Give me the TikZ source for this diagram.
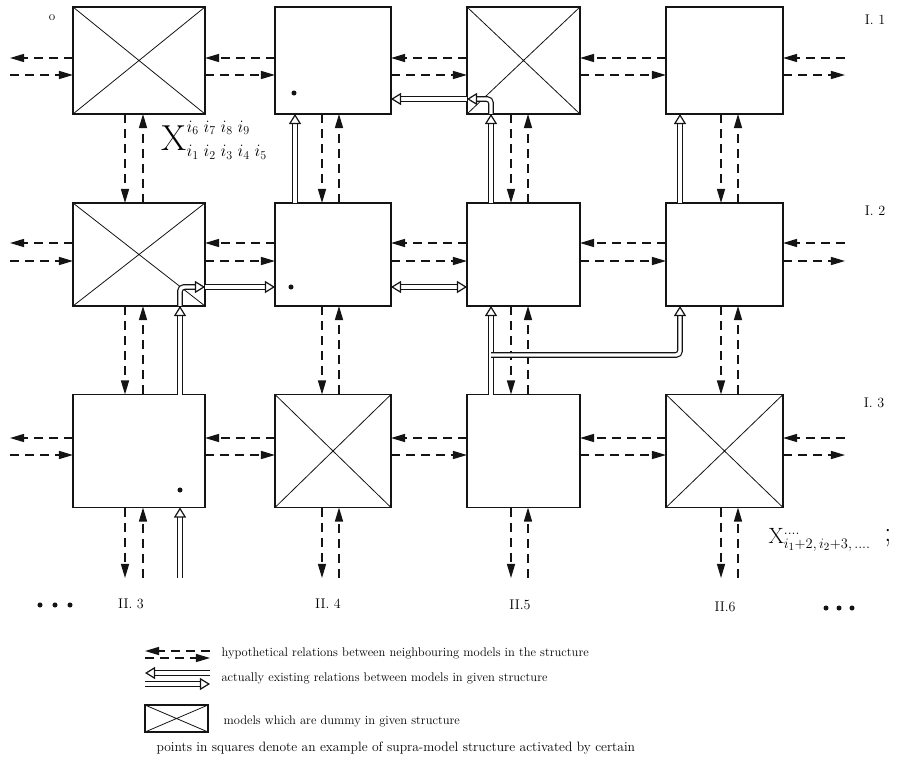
\documentclass[tikz,border=0pt]{standalone}
\usetikzlibrary{arrows.meta}
\definecolor{ModelInk}{HTML}{141414}

\begin{document}
\begin{tikzpicture}[
    x=0.035cm, y=-0.035cm,
    model/.style={
      draw=ModelInk,
      line width=1.4pt,
      inner sep=0pt,
      outer sep=0pt
    },
    dummy/.style={
      model,
      path picture={
        \draw[ModelInk, line width=0.8pt]
          (path picture bounding box.north west) -- (path picture bounding box.south east)
          (path picture bounding box.north east) -- (path picture bounding box.south west);
      }
    },
    hyp/.style={
      draw=ModelInk,
      line width=1.3pt,
      dash pattern=on 9pt off 6pt,
      -{Triangle[length=14pt,width=8pt]}
    },
    real/.style={
      draw=ModelInk,
      line width=1.2pt,
      double=white,
      double distance=3.4pt,
      -{Triangle[open,length=10pt,width=12pt]}
    },
    realboth/.style={
      real,
      arrows={Triangle[open,length=10pt,width=12pt]-Triangle[open,length=10pt,width=12pt]}
    },
    dot/.style={circle, fill=ModelInk, inner sep=0pt, minimum size=5pt},
    lbl/.style={font=\fontsize{14}{16}\selectfont},
    legend/.style={anchor=west, font=\fontsize{12.5}{14}\selectfont}
  ]

  \useasboundingbox (0,0) rectangle (897,758);

  % Models, row I.1
  \node[dummy, minimum width=4.62cm,  minimum height=3.745cm] (m11) at (139,60.5) {};
  \node[model, minimum width=4.06cm,  minimum height=3.745cm] (m12) at (333,60.5) {};
  \node[dummy, minimum width=3.955cm, minimum height=3.745cm] (m13) at (523.5,60.5) {};
  \node[model, minimum width=4.095cm, minimum height=3.745cm] (m14) at (724.5,60.5) {};

  % Models, row I.2
  \node[dummy, minimum width=4.62cm,  minimum height=3.605cm] (m21) at (139,254.5) {};
  \node[model, minimum width=4.06cm,  minimum height=3.605cm] (m22) at (333,254.5) {};
  \node[model, minimum width=3.955cm, minimum height=3.605cm] (m23) at (523.5,254.5) {};
  \node[model, minimum width=4.095cm, minimum height=3.605cm] (m24) at (724.5,254.5) {};

  % Models, row I.3
  \node[model, minimum width=4.62cm,  minimum height=3.955cm] (m31) at (139,451) {};
  \node[dummy, minimum width=4.06cm,  minimum height=3.955cm] (m32) at (333,451) {};
  \node[model, minimum width=3.955cm, minimum height=3.955cm] (m33) at (523.5,451) {};
  \node[dummy, minimum width=4.095cm, minimum height=3.955cm] (m34) at (724.5,451) {};

  % Hypothetical relations along the rows
  \foreach \r/\yu/\yl in {1/58/75, 2/243/261, 3/438/455}{
    \coordinate (wu\r) at (10,\yu);
    \coordinate (wl\r) at (10,\yl);
    \coordinate (eu\r) at (845,\yu);
    \coordinate (el\r) at (845,\yl);
    \draw[hyp] (m\r1.west |- wu\r) -- (wu\r);
    \draw[hyp] (wl\r) -- (m\r1.west |- wl\r);
    \draw[hyp] (eu\r) -- (m\r4.east |- eu\r);
    \draw[hyp] (m\r4.east |- el\r) -- (el\r);
    \foreach \a/\b in {1/2, 2/3, 3/4}{
      \draw[hyp] (m\r\b.west |- wu\r) -- (m\r\a.east |- wu\r);
      \draw[hyp] (m\r\a.east |- wl\r) -- (m\r\b.west |- wl\r);
    }
  }

  % Hypothetical relations along the columns
  \foreach \c/\xd/\xu in {1/125/143, 2/322/339, 3/511/528, 4/721/738}{
    \coordinate (sd\c) at (\xd,578);
    \coordinate (su\c) at (\xu,578);
    \draw[hyp] (m1\c.south -| sd\c) -- (m2\c.north -| sd\c);
    \draw[hyp] (m2\c.north -| su\c) -- (m1\c.south -| su\c);
    \draw[hyp] (m2\c.south -| sd\c) -- (m3\c.north -| sd\c);
    \draw[hyp] (m3\c.north -| su\c) -- (m2\c.south -| su\c);
    \draw[hyp] (m3\c.south -| sd\c) -- (sd\c);
    \draw[hyp] (su\c) -- (m3\c.south -| su\c);
  }

  % Lanes of the existing relations
  \coordinate (x1) at (180,0);
  \coordinate (x2) at (295,0);
  \coordinate (x3) at (491,0);
  \coordinate (x4) at (680,0);
  \coordinate (y1) at (0,99);
  \coordinate (y2) at (0,287);
  \coordinate (yb) at (0,355);
  \coordinate (feed) at (180,578);

  % Existing relations
  \draw[real] (feed) -- (m31.south -| x1);
  \draw[real] (m31.north -| x1) -- (m21.south -| x1);
  \draw[real, rounded corners=4pt] (m21.south -| x1) |- (m21.east |- y2);
  \draw[real] (m21.east |- y2) -- (m22.west |- y2);
  \draw[real] (m22.north -| x2) -- (m12.south -| x2);
  \draw[realboth] (m22.east |- y2) -- (m23.west |- y2);
  \draw[real] (m33.north -| x3) -- (m23.south -| x3);
  \draw[real, rounded corners=4pt] (x3 |- yb) -| (m24.south -| x4);
  \draw[real] (m23.north -| x3) -- (m13.south -| x3);
  \draw[real, rounded corners=4pt] (m13.south -| x3) |- (m13.west |- y1);
  \draw[real] (m13.west |- y1) -- (m12.east |- y1);
  \draw[real] (m24.north -| x4) -- (m14.south -| x4);

  % Points of the supra-model structure
  \node[dot] (p12) at (294,93) {};
  \node[dot] (p22) at (291,287) {};
  \node[dot] (p31) at (180,490) {};

  % Labels
  \node[font=\fontsize{13}{13}\selectfont] (mark) at (52,18) {o};
  \node[anchor=west, font=\fontsize{26}{28}\selectfont] (xfirst) at (158,140)
    {$\mbox{\fontsize{36}{36}\selectfont X}^{i_6\;i_7\;i_8\;i_9}_{i_1\;i_2\;i_3\;i_4\;i_5}$};
  \node[anchor=west, font=\fontsize{22}{24}\selectfont] (xnext) at (765,540)
    {$\mbox{X}^{....}_{i_1+2,\,i_2+3,\,....}$};
  \node[font=\fontsize{28}{28}\selectfont] (semi) at (888,538) {;};
  \node[lbl] (row1) at (875,20) {I. 1};
  \node[lbl] (row2) at (875,211) {I. 2};
  \node[lbl] (row3) at (874,403) {I. 3};
  \node[lbl] (col3) at (131,604) {II. 3};
  \node[lbl] (col4) at (328,604) {II. 4};
  \node[lbl] (col5) at (520,605) {II.5};
  \node[lbl] (col6) at (725,607) {II.6};
  \node[dot] (la) at (40,605) {};
  \node[dot] (lb) at (55,605) {};
  \node[dot] (lc) at (70,605) {};
  \node[dot] (ra) at (826,608) {};
  \node[dot] (rb) at (839,608) {};
  \node[dot] (rc) at (852,608) {};

  % Legend
  \coordinate (kha) at (145,651);
  \coordinate (khb) at (210,651);
  \coordinate (khc) at (145,658);
  \coordinate (khd) at (210,658);
  \draw[hyp] (khb) -- (kha);
  \draw[hyp] (khc) -- (khd);
  \coordinate (kra) at (145,673);
  \coordinate (krb) at (210,673);
  \coordinate (krc) at (145,684);
  \coordinate (krd) at (210,684);
  \draw[real] (krb) -- (kra);
  \draw[real] (krc) -- (krd);
  \node[dummy, minimum width=2.205cm, minimum height=0.945cm] (kdummy) at (176.5,718.5) {};
  \node[legend] (thyp) at (218,653)
    {hypothetical relations between neighbouring models in the structure};
  \node[legend] (treal) at (218,678)
    {actually existing relations between models in given structure};
  \node[legend] (tdummy) at (220,721)
    {models which are dummy in given structure};
  \node[legend, font=\fontsize{13.5}{15}\selectfont] (tpoints) at (153,748)
    {points in squares denote an example of supra-model structure activated by certain};

\end{tikzpicture}
\end{document}
